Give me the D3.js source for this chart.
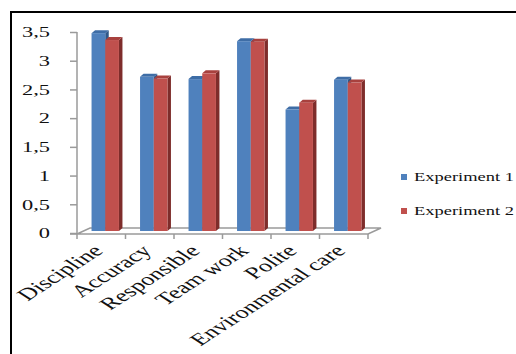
<!DOCTYPE html>
<html><head><meta charset="utf-8">
<script src="https://cdn.jsdelivr.net/npm/d3@7"></script>
<style>body{margin:0;background:#fff}svg{display:block}</style>
</head><body>
<svg id="c" width="516" height="354"></svg>
<script>
const categories = ["Discipline","Accuracy","Responsible","Team work","Polite","Environmental care"];
const series = ["Experiment 1","Experiment 2"];
const exp1 = [3.48, 2.72, 2.68, 3.34, 2.15, 2.67];
const exp2 = [3.36, 2.69, 2.78, 3.33, 2.27, 2.62];
const yTicks = [0,0.5,1,1.5,2,2.5,3,3.5];
const yTickLabels = ["0","0,5","1","1,5","2","2,5","3","3,5"];
const colors = {front:["#4F81BD","#C0504D"], top:["#3E6DA6","#A8413E"], side:["#2F5889","#7E2D2B"]};

const svg = d3.select("#c");
const FONT = '"Liberation Serif"';
const TXT = "#111";

// frame
svg.append("line").attr("x1",10).attr("x2",516).attr("y1",12).attr("y2",12).attr("stroke","#000").attr("stroke-width",2);
svg.append("line").attr("x1",11).attr("x2",11).attr("y1",11).attr("y2",354).attr("stroke","#000").attr("stroke-width",2);

const y = d3.scaleLinear().domain([0,3.5]).range([233,32]);
const x = d3.scaleBand().domain(categories).range([77,368]).paddingInner(0).paddingOuter(0);
const bw = x.bandwidth();
const xi = d3.scaleBand().domain(series).range([bw*0.3, bw*0.3 + 27.4]);
const dx = 3.5, dyd = -3;
const axisColor = "#9a9a9a";

// floor
const floorFront = 234, floorBack = 228;
const fg = svg.append("g").attr("stroke",axisColor).attr("stroke-width",1.5).attr("fill","none");
fg.append("path").attr("d",`M70,${floorFront}H${x.range()[1]}L${x.range()[1]+13},${floorBack}H${x.range()[0]+13}L${x.range()[0]},${floorFront}`);
const bounds = categories.map(c=>x(c)).concat([x.range()[1]]);
fg.selectAll("line.tk").data(bounds).join("line").attr("class","tk")
  .attr("x1",d=>d).attr("x2",d=>d).attr("y1",floorFront).attr("y2",floorFront+5);

// y axis
const yAxis = d3.axisLeft(y).tickValues(yTicks).tickSize(7).tickSizeOuter(0)
  .tickFormat((d,i)=>yTickLabels[i]);
const ya = svg.append("g").attr("transform","translate(77,0)").call(yAxis);
ya.attr("font-family",null).attr("font-size",null);
ya.select(".domain").attr("stroke",axisColor).attr("stroke-width",1.5).attr("d","M0,32V234");
ya.selectAll(".tick line").attr("stroke",axisColor).attr("stroke-width",1.5);
ya.selectAll(".tick text").attr("x",null).attr("dy",null)
  .attr("transform",`translate(-27,4.8) scale(1.6,1)`)
  .style("font-family",FONT).style("font-size","14px").attr("fill",TXT);

// bars
const data = [];
categories.forEach((c,i)=>{
  data.push({c, s:0, v:exp1[i]});
  data.push({c, s:1, v:exp2[i]});
});
const bars = svg.append("g");
const bb = y(0)-2;
data.forEach(d=>{
  const x0 = x(d.c) + xi(series[d.s]);
  const w = xi.bandwidth();
  const yt = y(d.v);
  const g = bars.append("g");
  g.append("polygon").attr("points",`${x0+w},${yt} ${x0+w+dx},${yt+dyd} ${x0+w+dx},${bb+dyd} ${x0+w},${bb}`).attr("fill",colors.side[d.s]);
  g.append("polygon").attr("points",`${x0},${yt} ${x0+w},${yt} ${x0+w+dx},${yt+dyd} ${x0+dx},${yt+dyd}`).attr("fill",colors.top[d.s]);
  g.append("rect").attr("x",x0).attr("y",yt).attr("width",w).attr("height",bb-yt).attr("fill",colors.front[d.s]);
});

// category labels
svg.append("g").selectAll("text").data(categories).join("text")
  .attr("transform",d=>`translate(${x(d)+bw/2+3},252) scale(1.55,1) rotate(-45)`)
  .attr("text-anchor","end").style("font-family",FONT).style("font-size","17px").attr("fill",TXT)
  .text(d=>d);

// legend
const lg = svg.append("g");
const ly = [177, 211];
series.forEach((s,i)=>{
  lg.append("rect").attr("x",401).attr("y",ly[i]-3).attr("width",6).attr("height",6).attr("fill",colors.front[i]);
  lg.append("text").attr("transform",`translate(414,${ly[i]+4.4}) scale(1.42,1)`)
    .style("font-family",FONT).style("font-size","13px").attr("fill",TXT).text(s);
});
</script>
</body></html>
